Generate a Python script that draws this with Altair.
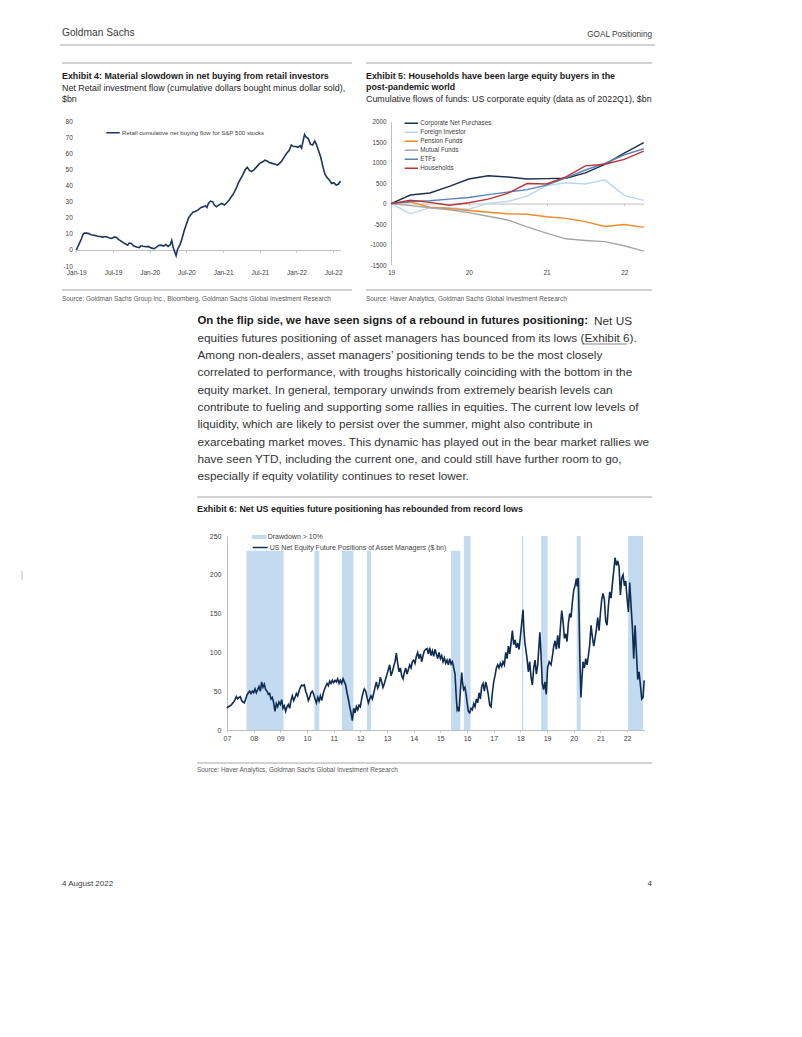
import altair as alt
import pandas as pd

# ---------------- data ----------------
# Exhibit 4: retail cumulative net buying flow ($bn), x in decimal years
ex4_year = [2019.00, 2019.02, 2019.04, 2019.07, 2019.09, 2019.11, 2019.14, 2019.17, 2019.20, 2019.24,
            2019.28, 2019.32, 2019.36, 2019.40, 2019.44, 2019.48, 2019.52, 2019.55, 2019.58, 2019.62,
            2019.66, 2019.70, 2019.72, 2019.75, 2019.78, 2019.82, 2019.86, 2019.88, 2019.91, 2019.95,
            2019.98, 2020.02, 2020.06, 2020.09, 2020.12, 2020.16, 2020.19, 2020.22, 2020.25, 2020.28,
            2020.30, 2020.32, 2020.34, 2020.36, 2020.38, 2020.41, 2020.44, 2020.47, 2020.50, 2020.53,
            2020.56, 2020.59, 2020.62, 2020.66, 2020.70, 2020.73, 2020.76, 2020.78, 2020.80, 2020.83,
            2020.86, 2020.88, 2020.91, 2020.94, 2020.98, 2021.02, 2021.05, 2021.08, 2021.11, 2021.14,
            2021.18, 2021.21, 2021.24, 2021.27, 2021.30, 2021.33, 2021.36, 2021.39, 2021.42, 2021.46,
            2021.50, 2021.54, 2021.57, 2021.60, 2021.63, 2021.67, 2021.71, 2021.74, 2021.77, 2021.80,
            2021.84, 2021.87, 2021.90, 2021.93, 2021.96, 2021.99, 2022.02, 2022.05, 2022.07, 2022.09,
            2022.11, 2022.13, 2022.16, 2022.19, 2022.22, 2022.25, 2022.27, 2022.30, 2022.33, 2022.36,
            2022.39, 2022.42, 2022.45, 2022.48, 2022.51, 2022.54, 2022.57, 2022.60]
ex4_value = [0.0, 2.0, 4.0, 7.0, 9.5, 10.5, 10.6, 10.2, 9.5, 9.2,
             8.7, 8.4, 8.0, 8.4, 7.6, 7.2, 8.1, 7.6, 6.4, 5.2,
             4.0, 3.0, 4.3, 4.0, 2.6, 1.8, 1.5, 2.6, 2.3, 2.0,
             2.2, 1.3, 0.8, 1.6, 2.8, 3.0, 2.4, 3.4, 2.2, 3.3,
             6.0, 1.5, -1.0, -3.5, 0.5, 3.0, 7.0, 12.0, 16.0, 20.0,
             22.0, 23.5, 24.0, 25.0, 26.5, 27.0, 27.5, 26.5, 29.0, 30.5,
             30.0, 28.0, 27.0, 28.0, 29.0, 28.0, 29.5, 31.0, 33.0, 35.0,
             38.5, 42.0, 44.5, 47.0, 50.0, 51.5, 49.5, 49.0, 50.0, 52.0,
             54.0, 55.0, 56.0, 55.5, 54.5, 54.0, 53.5, 53.0, 54.0, 55.5,
             58.5, 60.5, 62.0, 65.5, 64.5, 64.5, 64.0, 65.0, 63.5, 68.0,
             72.0, 70.5, 69.5, 66.0, 65.5, 68.0, 66.0, 62.0, 58.0, 52.0,
             47.0, 45.0, 43.5, 41.5, 42.0, 40.5, 41.0, 43.0]
ex4_label = "Retail cumulative net buying flow for S&P 500 stocks"
ex4_ticks = [2019.0, 2019.5, 2020.0, 2020.5, 2021.0, 2021.5, 2022.0, 2022.5]

# Exhibit 5: cumulative flows ($bn), quarterly
ex5_quarter = [2019.0, 2019.25, 2019.5, 2019.75, 2020.0, 2020.25, 2020.5, 2020.75,
               2021.0, 2021.25, 2021.5, 2021.75, 2022.0, 2022.25]
ex5_names = ["Corporate Net Purchases", "Foreign Investor", "Pension Funds",
             "Mutual Funds", "ETFs", "Households"]
ex5_colors = ["#1b2f4e", "#b9d7f0", "#ef8a2c", "#a6a6a6", "#5b80b8", "#b8343b"]
corporate = [0, 210, 260, 420, 600, 680, 650, 600, 610, 620, 750, 960, 1230, 1490]
foreign = [0, -250, -100, -100, -140, 10, 50, 180, 440, 510, 480, 580, 200, 80]
pension = [0, 40, -90, -120, -170, -210, -250, -260, -320, -360, -440, -560, -510, -580]
mutual = [0, -50, -100, -150, -220, -310, -400, -570, -720, -860, -900, -930, -1030, -1160]
etfs = [0, 50, 70, 110, 150, 220, 280, 340, 450, 630, 820, 980, 1190, 1340]
households = [0, 80, 30, -40, 20, 110, 250, 490, 480, 650, 920, 960, 1080, 1280]

# Exhibit 6: net equity future positions of asset managers ($ bn)
ex6_year = [2007.00, 2007.05, 2007.10, 2007.15, 2007.20, 2007.25, 2007.30, 2007.35, 2007.40, 2007.45,
            2007.50, 2007.55, 2007.60, 2007.65, 2007.70, 2007.75, 2007.80, 2007.85, 2007.90, 2007.95,
            2008.00, 2008.05, 2008.10, 2008.15, 2008.20, 2008.25, 2008.30, 2008.35, 2008.40, 2008.45,
            2008.50, 2008.55, 2008.60, 2008.65, 2008.70, 2008.75, 2008.80, 2008.85, 2008.90, 2008.95,
            2009.00, 2009.05, 2009.10, 2009.15, 2009.20, 2009.25, 2009.30, 2009.35, 2009.40, 2009.45,
            2009.50, 2009.55, 2009.60, 2009.65, 2009.70, 2009.75, 2009.80, 2009.85, 2009.90, 2009.95,
            2010.00, 2010.05, 2010.10, 2010.15, 2010.20, 2010.25, 2010.30, 2010.35, 2010.40, 2010.45,
            2010.50, 2010.55, 2010.60, 2010.65, 2010.70, 2010.75, 2010.80, 2010.85, 2010.90, 2010.95,
            2011.00, 2011.05, 2011.10, 2011.15, 2011.20, 2011.25, 2011.30, 2011.35, 2011.40, 2011.45,
            2011.50, 2011.55, 2011.60, 2011.65, 2011.70, 2011.75, 2011.80, 2011.85, 2011.90, 2011.95,
            2012.00, 2012.05, 2012.10, 2012.15, 2012.20, 2012.25, 2012.30, 2012.35, 2012.40, 2012.45,
            2012.50, 2012.55, 2012.60, 2012.65, 2012.70, 2012.75, 2012.80, 2012.85, 2012.90, 2012.95,
            2013.00, 2013.05, 2013.10, 2013.15, 2013.20, 2013.25, 2013.30, 2013.35, 2013.40, 2013.45,
            2013.50, 2013.55, 2013.60, 2013.65, 2013.70, 2013.75, 2013.80, 2013.85, 2013.90, 2013.95,
            2014.00, 2014.05, 2014.10, 2014.15, 2014.20, 2014.25, 2014.30, 2014.35, 2014.40, 2014.45,
            2014.50, 2014.55, 2014.60, 2014.65, 2014.70, 2014.75, 2014.80, 2014.85, 2014.90, 2014.95,
            2015.00, 2015.05, 2015.10, 2015.15, 2015.20, 2015.25, 2015.30, 2015.35, 2015.40, 2015.45,
            2015.50, 2015.55, 2015.60, 2015.63, 2015.66, 2015.70, 2015.75, 2015.80, 2015.83, 2015.87,
            2015.92, 2015.97, 2016.00, 2016.05, 2016.10, 2016.15, 2016.20, 2016.25, 2016.30, 2016.35,
            2016.40, 2016.45, 2016.50, 2016.55, 2016.60, 2016.65, 2016.70, 2016.75, 2016.80, 2016.85,
            2016.90, 2016.95, 2017.00, 2017.05, 2017.10, 2017.15, 2017.20, 2017.25, 2017.30, 2017.35,
            2017.40, 2017.45, 2017.50, 2017.55, 2017.60, 2017.65, 2017.70, 2017.75, 2017.80, 2017.85,
            2017.90, 2017.95, 2018.00, 2018.05, 2018.10, 2018.13, 2018.17, 2018.20, 2018.25, 2018.30,
            2018.35, 2018.40, 2018.45, 2018.50, 2018.55, 2018.60, 2018.65, 2018.70, 2018.73, 2018.77,
            2018.82, 2018.87, 2018.92, 2018.97, 2019.02, 2019.08, 2019.15, 2019.20, 2019.25, 2019.30,
            2019.35, 2019.40, 2019.45, 2019.50, 2019.55, 2019.60, 2019.65, 2019.70, 2019.75, 2019.80,
            2019.85, 2019.90, 2019.95, 2020.00, 2020.05, 2020.10, 2020.13, 2020.17, 2020.20, 2020.23,
            2020.27, 2020.30, 2020.35, 2020.40, 2020.45, 2020.50, 2020.55, 2020.60, 2020.65, 2020.70,
            2020.75, 2020.80, 2020.85, 2020.90, 2020.95, 2021.00, 2021.05, 2021.10, 2021.15, 2021.20,
            2021.25, 2021.30, 2021.35, 2021.40, 2021.45, 2021.50, 2021.55, 2021.60, 2021.65, 2021.70,
            2021.75, 2021.80, 2021.85, 2021.90, 2021.95, 2022.00, 2022.05, 2022.10, 2022.15, 2022.20,
            2022.25, 2022.30, 2022.35, 2022.40, 2022.45, 2022.50, 2022.55, 2022.60, 2022.64]
ex6_value = [28, 30, 31, 32, 34, 36, 39, 43, 40, 42,
             43, 38, 36, 35, 40, 45, 48, 50, 47, 50,
             48, 53, 48, 52, 56, 50, 62, 55, 59, 52,
             50, 46, 47, 40, 42, 35, 24, 34, 30, 36,
             33, 39, 28, 31, 24, 30, 33, 28, 38, 44,
             38, 42, 47, 44, 50, 55, 58, 57, 58, 50,
             45, 38, 42, 48, 50, 46, 40, 35, 42, 37,
             44, 38, 46, 52, 56, 60, 57, 63, 60, 64,
             61, 64, 62, 66, 60, 64, 60, 66, 62, 58,
             48, 40, 30, 22, 12, 28, 22, 30, 26, 32,
             30, 40, 48, 53, 50, 42, 35, 40, 44, 40,
             47, 55, 62, 54, 58, 68, 62, 55, 60, 66,
             72, 78, 84, 70, 75, 82, 88, 99, 86, 75,
             80, 70, 66, 74, 80, 72, 78, 84, 80, 88,
             90, 86, 95, 100, 92, 98, 88, 96, 102, 104,
             105, 98, 106, 96, 102, 95, 104, 98, 92, 100,
             92, 96, 88, 93, 86, 90, 84, 92, 85, 88,
             80, 72, 40, 26, 28, 24, 50, 74, 62, 52,
             55, 45, 36, 24, 22, 28, 26, 34, 30, 40,
             35, 48, 40, 56, 60, 50, 62, 55, 45, 32,
             30, 48, 62, 70, 80, 84, 80, 86, 82, 88,
             84, 100, 92, 108, 98, 112, 128, 110, 116, 106,
             112, 104, 120, 138, 155, 130, 112, 105, 92, 75,
             88, 68, 58, 80, 90, 72, 84, 110, 126, 100,
             60, 52, 62, 46, 80, 88, 84, 95, 108, 115,
             104, 122, 105, 132, 154, 140, 118, 124, 114, 138,
             150, 145, 165, 180, 186, 195, 185, 196, 150, 92,
             42, 62, 88, 80, 92, 84, 96, 110, 135, 120,
             108, 118, 130, 145, 128, 150, 168, 176, 168, 140,
             135, 160, 178, 170, 188, 205, 222, 212, 218, 210,
             174, 196, 200, 186, 192, 170, 152, 190, 160, 132,
             92, 135, 100, 65, 75, 58, 40, 42, 64]
ex6_line_label = "US Net Equity Future Positions of Asset Managers ($ bn)"
ex6_band_label = "Drawdown > 10%"
band_start = [2007.73, 2010.28, 2011.31, 2012.25, 2015.40, 2015.88, 2018.06, 2018.78, 2020.11, 2022.04]
band_end = [2009.12, 2010.46, 2011.74, 2012.40, 2015.75, 2016.13, 2018.11, 2019.02, 2020.26, 2022.60]
band_top = [231, 231, 231, 231, 231, 250, 250, 250, 250, 250]

# ---------------- page layout ----------------
W, H = 786, 1021
M = 8  # page margin: view coordinate = page coordinate - 8
SANS = "Liberation Sans, Arial, Helvetica, sans-serif"
AXIS_GREY = "#bfbfbf"
RULE_GREY = "#a6a6a6"
LABEL = "#404040"
PLAIN_NUM = "'' + datum.value"


def p(v):
    return v - M


def text_layer(rows, size, weight="normal", font=SANS, color="#262626", align="left"):
    df = pd.DataFrame(rows, columns=["x", "y", "t"])
    df["x"] = df["x"] - M
    df["y"] = df["y"] - M
    return alt.Chart(df).mark_text(
        align=align, baseline="middle", fontSize=size, fontWeight=weight, font=font, color=color
    ).encode(
        x=alt.X("x:Q", scale=None, axis=None),
        y=alt.Y("y:Q", scale=None, axis=None),
        text="t:N",
    )


def hrule_layer(rows, color=RULE_GREY, width=1.0):
    df = pd.DataFrame(rows, columns=["x", "x2", "y"])
    df[["x", "x2", "y"]] = df[["x", "x2", "y"]] - M
    return alt.Chart(df).mark_rule(color=color, strokeWidth=width).encode(
        x=alt.X("x:Q", scale=None, axis=None),
        x2="x2:Q",
        y=alt.Y("y:Q", scale=None, axis=None),
    )


def vrule_layer(rows, color=RULE_GREY, width=1.0):
    df = pd.DataFrame(rows, columns=["x", "y", "y2"])
    df[["x", "y", "y2"]] = df[["x", "y", "y2"]] - M
    return alt.Chart(df).mark_rule(color=color, strokeWidth=width).encode(
        x=alt.X("x:Q", scale=None, axis=None),
        y=alt.Y("y:Q", scale=None, axis=None),
        y2="y2:Q",
    )


# ---------------- Exhibit 4 ----------------
df4 = pd.DataFrame({"t": ex4_year, "v": ex4_value, "s": ex4_label})
x4 = alt.Scale(domain=[2019.0, 2022.6], range=[p(76.3), p(340.5)], nice=False, zero=False)
y4 = alt.Scale(domain=[-10, 80], range=[p(266), p(121.7)], nice=False, zero=False)
ex4 = alt.Chart(df4).mark_line(strokeWidth=1.6).encode(
    x=alt.X("t:Q", scale=x4, axis=alt.Axis(
        orient="bottom", offset=p(250) - H, values=ex4_ticks, title=None, grid=False, labelFlush=False,
        labelExpr="(datum.value % 1 == 0 ? 'Jan-' : 'Jul-') + format(floor(datum.value) % 100, '02d')",
        domainColor=AXIS_GREY, tickColor=AXIS_GREY, tickSize=2, labelPadding=17,
        labelFont=SANS, labelFontSize=6.5, labelColor=LABEL)),
    y=alt.Y("v:Q", scale=y4, axis=alt.Axis(
        orient="left", offset=-p(76.3), values=list(range(-10, 81, 10)), title=None, grid=False,
        labelExpr=PLAIN_NUM, domain=False, ticks=False, labelPadding=4,
        labelFont=SANS, labelFontSize=6.5, labelColor=LABEL)),
    stroke=alt.Stroke("s:N", scale=alt.Scale(domain=[ex4_label], range=["#1b365d"]), legend=alt.Legend(
        orient="none", legendX=p(105), legendY=p(132.7) - 4.5, title=None, padding=0,
        symbolType="stroke", symbolSize=180, symbolStrokeWidth=1.6, clipHeight=9, labelLimit=400,
        labelOffset=1, labelFont=SANS, labelFontSize=6.1, labelColor=LABEL)),
)

# ---------------- Exhibit 5 ----------------
ex5_rows = []
for name, vals in zip(ex5_names, [corporate, foreign, pension, mutual, etfs, households]):
    for q, v in zip(ex5_quarter, vals):
        ex5_rows.append({"q": q, "v": v, "s": name})
df5 = pd.DataFrame(ex5_rows)
x5 = alt.Scale(domain=[2019.0, 2022.25], range=[p(391), p(643.7)], nice=False, zero=False)
y5 = alt.Scale(domain=[-1500, 2000], range=[p(265), p(121.7)], nice=False, zero=False)
y5_zero = p(265) - 1500 / 3500 * (265 - 121.7)
ex5 = alt.Chart(df5).mark_line(strokeWidth=1.4).encode(
    x=alt.X("q:Q", scale=x5, axis=alt.Axis(
        orient="bottom", offset=y5_zero - H, values=[2019, 2020, 2021, 2022], title=None, grid=False,
        labelFlush=False, labelExpr="format(datum.value % 100, '02d')",
        domainColor=AXIS_GREY, tickColor=AXIS_GREY, tickSize=2, labelPadding=p(269.5) - y5_zero - 2,
        labelFont=SANS, labelFontSize=6.5, labelColor=LABEL)),
    y=alt.Y("v:Q", scale=y5, axis=alt.Axis(
        orient="left", offset=-p(391), values=list(range(-1500, 2001, 500)), title=None, grid=False,
        labelExpr=PLAIN_NUM, domainColor=AXIS_GREY, ticks=False, labelPadding=5,
        labelFont=SANS, labelFontSize=6.3, labelColor=LABEL)),
    stroke=alt.Stroke("s:N", scale=alt.Scale(domain=ex5_names, range=ex5_colors), legend=alt.Legend(
        orient="none", legendX=p(403.3), legendY=p(123.3) - 4.4, title=None, padding=0,
        symbolType="stroke", symbolSize=180, symbolStrokeWidth=1.6, clipHeight=8.8, rowPadding=0,
        labelLimit=400, labelOffset=1, labelFont=SANS, labelFontSize=6.3, labelColor=LABEL)),
    order="q:Q",
)

# ---------------- Exhibit 6 ----------------
df6 = pd.DataFrame({"t": ex6_year, "v": ex6_value, "s": ex6_line_label})
dfb = pd.DataFrame({"s": band_start, "e": band_end, "top": band_top, "lab": ex6_band_label})
x6 = alt.Scale(domain=[2007.0, 2022.65], range=[p(227), p(644.4)], nice=False, zero=False)
y6 = alt.Scale(domain=[0, 250], range=[p(730), p(536)], nice=False, zero=False)
ax6x = alt.Axis(orient="bottom", offset=p(730) - H, values=list(range(2007, 2023)), title=None, grid=False,
                labelFlush=False, labelExpr="format(datum.value % 100, '02d')",
                domainColor=AXIS_GREY, tickColor=AXIS_GREY, tickSize=2, labelPadding=2,
                labelFont=SANS, labelFontSize=7, labelColor=LABEL)
ax6y = alt.Axis(orient="left", offset=-p(227), values=list(range(0, 251, 50)), title=None, grid=False,
                domainColor=AXIS_GREY, ticks=False, labelPadding=6,
                labelFont=SANS, labelFontSize=7, labelColor=LABEL)
bands = alt.Chart(dfb).mark_rect(strokeWidth=0).encode(
    x=alt.X("s:Q", scale=x6, axis=ax6x),
    x2="e:Q",
    y=alt.Y("top:Q", scale=y6, axis=ax6y),
    y2=alt.datum(0),
    fill=alt.Fill("lab:N", scale=alt.Scale(domain=[ex6_band_label], range=["#c2dbf0"]), legend=alt.Legend(
        orient="none", legendX=p(251.7), legendY=p(537) - 4, title=None, padding=0,
        symbolType="M-1,-0.27H1V0.27H-1Z", symbolSize=225, symbolStrokeWidth=0, clipHeight=8,
        labelLimit=400, labelOffset=1, labelFont=SANS, labelFontSize=7, labelColor=LABEL)),
)
line6 = alt.Chart(df6).mark_line(strokeWidth=1.6).encode(
    x=alt.X("t:Q", scale=x6, axis=ax6x),
    y=alt.Y("v:Q", scale=y6, axis=ax6y),
    stroke=alt.Stroke("s:N", scale=alt.Scale(domain=[ex6_line_label], range=["#0f2c52"]), legend=alt.Legend(
        orient="none", legendX=p(251.7), legendY=p(547.5) - 4, title=None, padding=0,
        symbolType="stroke", symbolSize=225, symbolStrokeWidth=1.6, clipHeight=8,
        labelLimit=400, labelOffset=1, labelFont=SANS, labelFontSize=7, labelColor=LABEL)),
)
ex6 = alt.layer(bands, line6)

# ---------------- page text ----------------
header_l = text_layer([(62, 32.5, "Goldman Sachs")], 10.2, color="#3a3a3a")
header_r = text_layer([(652, 35, "GOAL Positioning")], 8.2, color="#3a3a3a", align="right")
titles = text_layer([
    (62, 75.5, "Exhibit 4: Material slowdown in net buying from retail investors"),
    (366, 75.5, "Exhibit 5: Households have been large equity buyers in the"),
    (366, 87, "post-pandemic world"),
    (197, 508.5, "Exhibit 6: Net US equities future positioning has rebounded from record lows"),
], 8.9, weight="bold", color="#1a1a1a")
subtitles = text_layer([
    (62, 87.5, "Net Retail investment flow (cumulative dollars bought minus dollar sold),"),
    (62, 99, "$bn"),
    (366, 99, "Cumulative flows of funds: US corporate equity (data as of 2022Q1), $bn"),
], 8.9, color="#262626")
sources = text_layer([
    (62, 298.5, "Source: Goldman Sachs Group Inc., Bloomberg, Goldman Sachs Global Investment Research"),
    (366, 298.5, "Source: Haver Analytics, Goldman Sachs Global Investment Research"),
    (197, 770, "Source: Haver Analytics, Goldman Sachs Global Investment Research"),
], 6.45, color="#595959")
body_lines = [
    "equities futures positioning of asset managers has bounced from its lows (Exhibit 6).",
    "Among non-dealers, asset managers\u2019 positioning tends to be the most closely",
    "correlated to performance, with troughs historically coinciding with the bottom in the",
    "equity market. In general, temporary unwinds from extremely bearish levels can",
    "contribute to fueling and supporting some rallies in equities. The current low levels of",
    "liquidity, which are likely to persist over the summer, might also contribute in",
    "exarcebating market moves. This dynamic has played out in the bear market rallies we",
    "have seen YTD, including the current one, and could still have further room to go,",
    "especially if equity volatility continues to reset lower.",
]
body = text_layer([(197.5, 320.5 + 17.3 * (i + 1), s) for i, s in enumerate(body_lines)]
                  + [(594, 320.5, "Net US")], 11.8, color="#333333")
body_bold = text_layer([(197.5, 320.5, "On the flip side, we have seen signs of a rebound in futures positioning:")],
                       11.4, weight="bold", color="#1a1a1a")
footer = text_layer([(62, 884, "4 August 2022")], 8, color="#3a3a3a")
footer_r = text_layer([(652, 884, "4")], 8, color="#3a3a3a", align="right")

hrules = hrule_layer([
    (60, 655, 45),
    (62, 352, 63), (366, 652, 63),
    (62, 352, 290), (366, 652, 290),
    (197, 652, 497), (197, 652, 763),
])
underline = hrule_layer([(582, 627, 344)], color="#555555", width=0.7)
margin_mark = vrule_layer([(22, 571, 580)], color="#b0b0b0", width=0.8)

chart = alt.layer(
    hrules, underline, margin_mark,
    header_l, header_r, titles, subtitles, sources, body, body_bold, footer, footer_r,
    ex4, ex5, ex6,
).resolve_scale(
    x="independent", y="independent", stroke="independent", fill="independent"
).resolve_axis(
    x="independent", y="independent"
).resolve_legend(
    stroke="independent", fill="independent"
).properties(
    width=W, height=H, autosize=alt.AutoSizeParams(type="none"), padding=0, background="white"
).configure_view(strokeWidth=0)

chart.save("out.html", embed_options={"renderer": "svg", "actions": False})
